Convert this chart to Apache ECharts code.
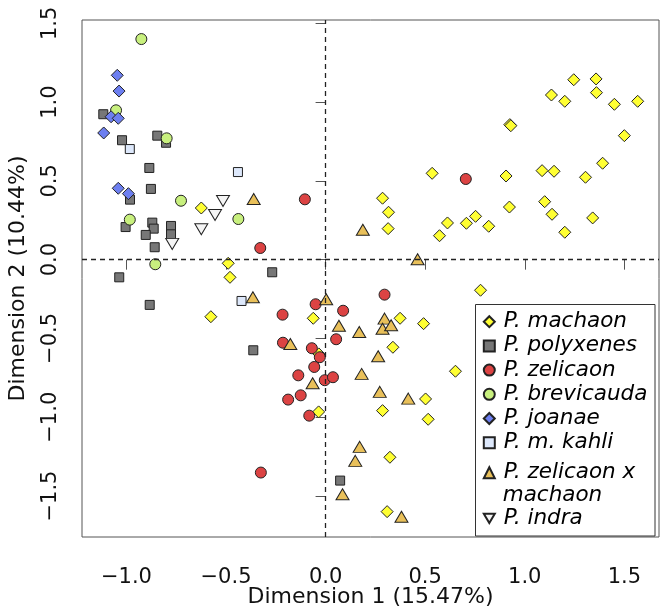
<!DOCTYPE html>
<html>
<head>
<meta charset="utf-8">
<script src="https://cdn.jsdelivr.net/npm/echarts@6/dist/echarts.min.js"></script>
<style>html,body{margin:0;padding:0;background:#fff;}#chart{width:669px;height:606px;}</style>
</head>
<body>
<div id="chart"></div>
<script>
// ---- data (Dimension 1, Dimension 2) ----
const machaon = [
  [-0.624,0.328],[-0.489,-0.023],[-0.480,-0.112],[-0.576,-0.362],
  [0.286,0.390],[0.316,0.301],[0.314,0.197],[0.535,0.548],[0.612,0.233],[0.572,0.152],
  [0.707,0.231],[0.753,0.275],[0.819,0.212],[0.778,-0.194],
  [0.906,0.531],[0.923,0.334],[0.925,0.857],[0.930,0.850],
  [1.087,0.565],[1.100,0.368],[1.134,1.045],[1.137,0.288],[1.147,0.561],
  [1.201,1.005],[1.201,0.174],[1.246,1.142],[1.305,0.523],[1.341,0.265],
  [1.358,1.147],[1.360,1.060],[1.391,0.612],[1.450,0.986],[1.500,0.787],[1.567,1.005],
  [-0.062,-0.372],[-0.034,-0.598],[-0.035,-0.966],
  [0.374,-0.372],[0.492,-0.406],[0.338,-0.556],[0.652,-0.708],[0.502,-0.884],
  [0.286,-0.958],[0.515,-1.013],[0.323,-1.254],[0.309,-1.599]
];
const polyxenes = [
  [-1.116,0.923],[-1.022,0.758],[-0.845,0.787],[-0.801,0.742],[-0.885,0.582],[-0.877,0.449],
  [-0.982,0.381],[-1.004,0.207],[-0.870,0.235],[-0.863,0.197],[-0.903,0.157],[-0.776,0.214],
  [-0.776,0.161],[-0.858,0.079],[-1.036,-0.112],[-0.883,-0.287],[-0.268,-0.080],[-0.363,-0.575],[0.073,-1.402]
];
const zelicaon = [
  [-0.104,0.383],[-0.328,0.074],[0.704,0.512],[0.296,-0.222],
  [-0.050,-0.283],[-0.216,-0.349],[0.088,-0.324],[-0.214,-0.527],[0.053,-0.505],
  [-0.069,-0.562],[-0.029,-0.619],[-0.057,-0.681],[-0.137,-0.734],[-0.004,-0.765],
  [0.037,-0.746],[-0.125,-0.861],[-0.188,-0.888],[-0.082,-0.990],[-0.325,-1.351]
];
const brevicauda = [
  [-0.925,1.400],[-1.052,0.948],[-0.798,0.770],[-0.726,0.374],[-0.983,0.254],[-0.855,-0.029],[-0.438,0.258]
];
const joanae = [
  [-1.046,1.170],[-1.037,1.070],[-1.077,0.907],[-1.041,0.897],[-1.114,0.804],[-1.041,0.453],[-0.990,0.419]
];
const mKahli = [[-0.983,0.702],[-0.440,0.556],[-0.422,-0.262]];
const zelicaonXmachaon = [
  [-0.361,0.385],[0.187,0.190],[0.462,0.003],[-0.365,-0.239],[0.003,-0.251],
  [0.067,-0.419],[0.169,-0.459],[0.296,-0.374],[0.286,-0.438],[0.329,-0.416],
  [-0.177,-0.535],[0.264,-0.613],[0.181,-0.725],[-0.065,-0.784],[0.272,-0.839],
  [0.415,-0.882],[0.171,-1.188],[0.149,-1.277],[0.085,-1.489],[0.381,-1.631]
];
const indra = [[-0.770,0.100],[-0.624,0.193],[-0.555,0.284],[-0.515,0.372]];

const xTicks = [-1.0,-0.5,0.0,0.5,1.0,1.5];
const yTicks = [-1.5,-1.0,-0.5,0.0,0.5,1.0,1.5];
const seriesNames = ['P. machaon','P. polyxenes','P. zelicaon','P. brevicauda','P. joanae','P. m. kahli','P. zelicaon x machaon','P. indra'];
const xTitle = 'Dimension 1 (15.47%)';
const yTitle = 'Dimension 2 (10.44%)';

// ---- rendering ----
const FONT = '"DejaVu Sans", sans-serif';
const fmt = v => (v < 0 ? '\u2212' : '') + Math.abs(v).toFixed(1);
const BORDER = '#222';
const DOWN_TRIANGLE = 'path://M0,0L13,0L6.5,11Z';

function sc(name, data, symbol, size, color, extra) {
  return Object.assign({
    type: 'scatter', name, data, symbol, symbolSize: size,
    itemStyle: { color, borderColor: BORDER, borderWidth: 1, opacity: 1 },
    emphasis: { disabled: true }, z: 3
  }, extra || {});
}

const legendText = { fontSize: 21.5, fontStyle: 'italic', fontFamily: FONT, color: '#000', lineHeight: 24, padding: [0,0,0,4] };

const option = {
  animation: false,
  grid: { left: 82, right: 10, top: 20, bottom: 69, show: true, borderColor: '#555', borderWidth: 1,
          containLabel: false, outerBoundsMode: 'none' },
  xAxis: {
    type: 'value', min: -1.223, max: 1.674,
    splitLine: { show: false }, axisLine: { show: false },
    axisTick: { show: true, length: 10, lineStyle: { color: '#555' }, customValues: xTicks },
    axisLabel: { customValues: xTicks, formatter: fmt, fontSize: 21, color: '#111', margin: 30, fontFamily: FONT },
    name: xTitle, nameLocation: 'middle', nameGap: 49, nameMoveOverlap: false,
    nameTextStyle: { fontSize: 22, color: '#111', fontFamily: FONT }
  },
  yAxis: {
    type: 'value', min: -1.760, max: 1.521,
    splitLine: { show: false }, axisLine: { show: false },
    axisTick: { show: true, length: 10, lineStyle: { color: '#555' }, customValues: yTicks },
    axisLabel: { customValues: yTicks, formatter: fmt, fontSize: 21, color: '#111', margin: 21, rotate: 90, fontFamily: FONT },
    name: yTitle, nameLocation: 'middle', nameGap: 52.5, nameRotate: 90, nameMoveOverlap: false,
    nameTextStyle: { fontSize: 22, color: '#111', fontFamily: FONT }
  },
  legend: [
    {
      data: seriesNames.slice(0, 6), orient: 'vertical', left: 482.8, top: 309.7, padding: 0,
      itemWidth: 11, itemHeight: 11, itemGap: 0.2, selectedMode: false, textStyle: legendText, z: 6
    },
    {
      data: seriesNames.slice(6), orient: 'vertical', left: 482.8, top: 460.7, padding: 0,
      itemWidth: 11, itemHeight: 11, itemGap: 21.6, selectedMode: false, textStyle: legendText, z: 6,
      formatter: n => n === 'P. zelicaon x machaon' ? 'P. zelicaon x' : n
    }
  ],
  graphic: [
    { type: 'rect', z: 5, shape: { x: 475.5, y: 304.5, width: 179.5, height: 231.5 },
      style: { fill: '#fff', stroke: '#333', lineWidth: 1 } },
    { type: 'text', z: 7, x: 502.7, y: 495,
      style: { text: 'machaon', font: 'italic 21.5px "DejaVu Sans"', fill: '#000', align: 'left', verticalAlign: 'middle' } }
  ],
  series: [
    { type: 'scatter', data: [], z: 1, silent: true,
      markLine: { silent: true, symbol: ['none','none'], animation: false, label: { show: false },
        lineStyle: { type: [5,4], color: '#222', width: 1.3 },
        data: [{ xAxis: 0 }, { yAxis: 0 }] } },
    sc(seriesNames[0], machaon, 'diamond', 12, '#ffff33'),
    sc(seriesNames[1], polyxenes, 'rect', 9, '#777777'),
    sc(seriesNames[2], zelicaon, 'circle', 11, '#dc4343'),
    sc(seriesNames[3], brevicauda, 'circle', 11, '#c8f07e'),
    sc(seriesNames[4], joanae, 'diamond', 12, '#6d7ff0'),
    sc(seriesNames[5], mKahli, 'rect', 9, '#dde8fb'),
    sc(seriesNames[6], zelicaonXmachaon, 'triangle', [13, 11], '#e9c05a'),
    sc(seriesNames[7], indra, DOWN_TRIANGLE, [13, 11], '#f5f5f5')
  ]
};

const chart = echarts.init(document.getElementById('chart'), null, { renderer: 'canvas' });
chart.setOption(option);
</script>
</body>
</html>
